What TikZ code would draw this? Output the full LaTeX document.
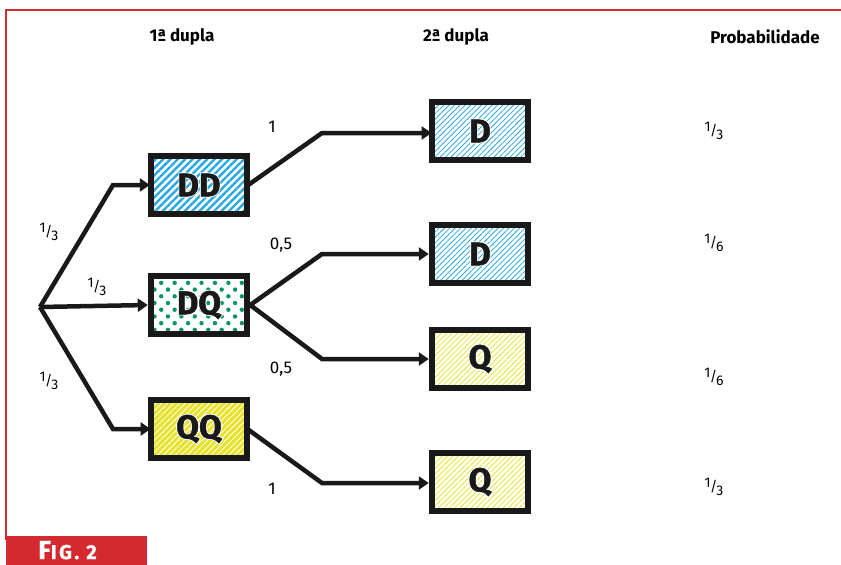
\documentclass[tikz,border=0pt]{standalone}
\usepackage{fontspec}
\setmainfont{Fira Sans}
\newfontfamily\boxfont{Fira Sans}[FakeBold=1.5]
\newfontfamily\halofont{Fira Sans}[FakeBold=7]
\newfontfamily\figfont{Fira Sans}[FakeBold=1,LetterSpace=12]
\usepackage{tikz}
\usetikzlibrary{patterns.meta,arrows.meta}
\definecolor{figred}{HTML}{D42A2F}
\definecolor{dblue}{HTML}{2AA8E0}
\definecolor{dgreen}{HTML}{00965E}
\definecolor{qyellow}{HTML}{E8E22E}
\newcommand{\fr}[2]{{\fontsize{14}{14}\selectfont\raisebox{4pt}{#1}\kern-0.5pt/\kern-1pt\raisebox{-4pt}{#2}}}
\newcommand{\halo}[1]{\leavevmode{\halofont\bfseries\rlap{\color{white}#1}}{\boxfont\bfseries #1}}
\begin{document}
\begin{tikzpicture}[x=1pt,y=-1pt,
  box/.style={draw=black!90,line width=6.5pt,minimum width=96pt,minimum height=58pt,inner sep=0pt,font=\fontsize{33}{33}\selectfont,text=black!90},
  conn/.style={line width=4.5pt,line join=miter,black!90,-{Triangle[length=10pt,width=13pt]}},
  lbl/.style={font=\fontsize{17}{17}\selectfont},
  head/.style={font=\fontsize{17}{17}\selectfont\bfseries}]
\useasboundingbox (0,0) rectangle (841,565);
% frame
\draw[figred,line width=2pt] (6,540) -- (6,10) -- (841,10);
\fill[figred] (6,536) rectangle (147,565);
\node[text=white,anchor=base west,inner sep=0pt] (fig) at (38,559) {\figfont\bfseries\fontsize{26}{26}\selectfont F\fontsize{20}{20}\selectfont IG. 2};
% headings
\node[head] (h1) at (182,37) {1ª dupla};
\node[head] (h2) at (456,37) {2ª dupla};
\node[head] (h3) at (765,37) {Probabilidade};
% root
\coordinate (r) at (40,307);
% first boxes
\node[box,pattern={Lines[angle=45,distance=5.2pt,line width=2.4pt]},pattern color=dblue] (dd) at (199,185) {\halo{DD}};
\node[box,pattern={Dots[angle=45,distance=9.5pt,radius=2.2pt]},pattern color=dgreen] (dq) at (199,305) {\halo{DQ}};
\node[box,preaction={fill=qyellow},pattern={Lines[angle=45,distance=4.2pt,line width=0.8pt]},pattern color=white] (qq) at (199,429) {\halo{QQ}};
% second boxes
\node[box,pattern={Lines[angle=45,distance=3.8pt,line width=0.8pt]},pattern color=dblue] (d1) at (480,131) {\halo{D}};
\node[box,pattern={Lines[angle=45,distance=3.8pt,line width=0.8pt]},pattern color=dblue] (d2) at (480,254) {\halo{D}};
\node[box,pattern={Lines[angle=45,distance=3.8pt,line width=0.8pt]},pattern color=qyellow] (q1) at (480,359) {\halo{Q}};
\node[box,pattern={Lines[angle=45,distance=3.8pt,line width=0.8pt]},pattern color=qyellow] (q2) at (480,482) {\halo{Q}};
% connectors
\draw[conn] (r) -- (113,185) -- (dd.west);
\draw[conn] (r) -- (dq.west);
\draw[conn] (r) -- (113,429) -- (qq.west);
\draw[conn] (dd.east) -- (322,133) -- (d1.west|-0,133);
\draw[conn] (dq.east) -- (322,254) -- (d2.west);
\draw[conn] (dq.east) -- (322,359) -- (q1.west);
\draw[conn] (qq.east) -- (322,483) -- (q2.west|-0,483);
% labels
\node[lbl] (l1) at (272,127) {1};
\node[lbl] (l2) at (281,245) {0,5};
\node[lbl] (l3) at (281,369) {0,5};
\node[lbl] (l4) at (272,489) {1};
\node (a1) at (49,232) {\fr{1}{3}};
\node (a2) at (97,287) {\fr{1}{3}};
\node (a3) at (49,381) {\fr{1}{3}};
\node (p1) at (714,131) {\fr{1}{3}};
\node (p2) at (714,243) {\fr{1}{6}};
\node (p3) at (714,377) {\fr{1}{6}};
\node (p4) at (714,487) {\fr{1}{3}};
\end{tikzpicture}
\end{document}
